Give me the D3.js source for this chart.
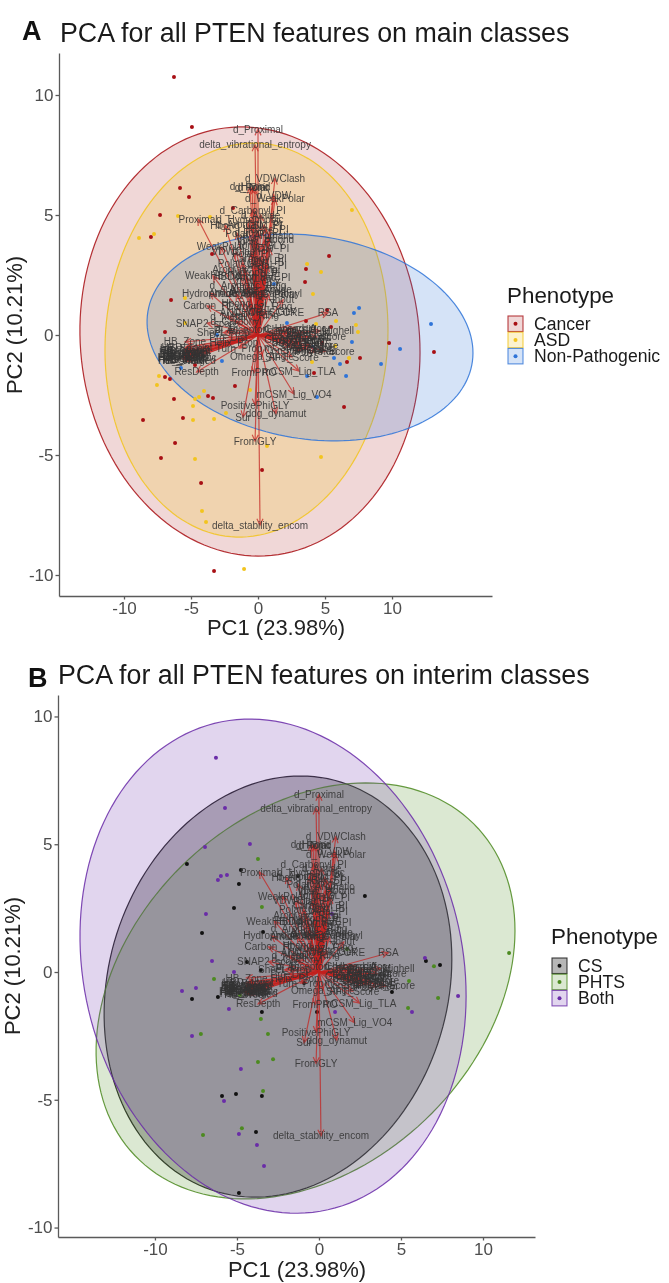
<!DOCTYPE html>
<html><head><meta charset="utf-8">
<script src="https://cdn.jsdelivr.net/npm/d3@7"></script>
<style>html,body{margin:0;padding:0;background:#fff}svg{display:block;filter:blur(.35px)}text{font-family:"Liberation Sans",Arial,sans-serif}</style>
</head><body><svg id="c" width="669" height="1283"></svg>
<script>
const xTicks=[-10,-5,0,5,10], yTicks=[-10,-5,0,5,10];
const groupsA=["Cancer","ASD","Non-Pathogenic"], groupsB=["CS","PHTS","Both"];
const colorsA=["#a80f14","#f2c41e","#2f74d8"], colorsB=["#111111","#4c8a20","#6a2ca8"];

const cancerPts=[[-6.27,10.75],[-4.93,8.67],[-5.82,6.13],[-5.15,5.75],[-7.31,5],[-7.99,4.08],[-1.87,5.29],[-3.43,3.38],[5.3,3.29],[3.58,2.75],[3.51,2.21],[-6.49,1.46],[5.15,1.04],[-6.94,.13],[5.45,.33],[9.78,-.33],[6.64,-1.13],[7.61,-.96],[-6.94,-1.75],[-6.57,-1.83],[-6.27,-2.67],[-8.58,-3.54],[-5.6,-3.46],[-6.19,-4.5],[-7.24,-5.13],[-4.25,-6.17],[.3,-5.63],[-3.73,-2.54],[-3.36,-2.63],[-1.72,-2.13],[6.42,-3],[-4.7,-1.25],[3.58,.58],[4.78,-.33],[4.18,-1.58],[13.13,-.71],[-3.28,-9.83]];
const asdPts=[[-5.97,4.96],[-8.88,4.04],[-7.76,4.21],[7.01,5.21],[3.66,2.96],[4.7,2.63],[4.1,1.71],[-5.45,1.54],[-3.58,4.92],[-5.45,.5],[5.82,.58],[7.31,.42],[7.46,.13],[4.33,.46],[5.75,-.46],[6.79,-.96],[-7.39,-1.71],[-7.54,-2.08],[-4.03,-2.33],[-4.4,-2.58],[-4.7,-2.67],[-4.85,-2.96],[-4.85,-3.54],[-3.28,-3.5],[-.6,-2.29],[-2.39,-3.25],[.67,-4.63],[4.7,-5.08],[-4.7,-5.17],[-4.18,-7.33],[-3.88,-7.79],[-1.04,-9.75],[4.03,-1.13]];
const nonPathPts=[[7.16,.92],[7.54,1.13],[7.01,-.29],[5.67,-.96],[6.12,-1.21],[6.57,-1.71],[9.18,-1.21],[4.4,-2.58],[3.66,-1.71],[-2.69,-1.08],[-5.75,-1.38],[2.16,.5],[1.19,2.13],[4.1,-.5],[-3.06,0],[12.91,.46],[10.6,-.58]];
const csPts=[[-8.05,4.23],[-4.88,3.44],[-4.76,3.99],[-5.18,2.5],[-7.13,1.53],[-3.41,1.57],[2.8,2.97],[-1.28,3.76],[-4.39,.39],[-3.54,.08],[-7.74,-1.06],[-6.16,-.98],[-3.48,-1.57],[-.12,-1.57],[-5.91,-4.85],[-5.06,-4.77],[-3.48,-4.85],[-3.84,-6.26],[-4.88,-8.65],[6.52,.43],[7.38,.27],[4.45,-.78],[-.91,-.43]];
const phtsPts=[[-6.4,-.27],[-4.82,-.9],[-3.54,-1.84],[-7.2,-2.43],[-3.11,-2.43],[-3.72,-3.52],[-2.8,-3.41],[-3.41,-4.66],[-4.7,-6.11],[-7.07,-6.38],[5.49,-.35],[7.26,-1.02],[5.43,-1.41],[7.01,.23],[-3.72,4.42],[-3.48,2.54],[1.71,.9],[11.59,.74]];
const bothPts=[[-6.28,8.38],[-5.73,6.42],[-6.95,4.89],[-4.21,5.01],[-5.98,3.76],[-5.61,3.8],[-6.16,3.6],[-6.89,2.27],[.79,2.27],[-6.52,.43],[-5.18,0],[-7.5,-.63],[-8.35,-.74],[-5.49,-1.45],[-7.74,-2.5],[-4.76,-3.8],[-5.79,-5.05],[-4.88,-6.34],[-3.78,-6.77],[-3.35,-7.59],[.98,-1.57],[5.67,-1.57],[6.46,.55],[8.48,-.94]];

// ellipse summaries: centre PC1, centre PC2, half-width, half-height, correlation
const ellipsesA=[[-.6,-.27,12.69,8.94,-.05],[-.86,-.21,10.56,8.21,.05],[3.88,-.1,12.16,4.31,-.15]];
const ellipsesB=[[-2.5,-.57,10.6,8.24,.13],[-.82,-.74,12.77,8.14,.29],[-2.8,.23,11.77,9.67,-.12]];

const featureNames=["d_Proximal","delta_vibrational_entropy","d_VDWClash","d_Polar","d_Hbond","d_Ionic","d_VDW","d_WeakPolar","Proximal","d_Hydrophobic","Hbond","CSM_PI","Polar","d_Ionic_PI","VDW_Hbond","d_Aromatic","WeakPolar","Ionic_GLY","VDWClash","d_Dist_PI","Aromatic_Ring","WeakHBond","HBDonor_PHE","d_Aromatic_Ring","Hydrophobic","Amide_Ring","Amide_Carbonyl","Inout","Carbon_PI","d_Metal","d_Carbonyl","ANCHOR_SCORE","RSA","SNAP2_score","PI_PI","d_Acceptor","d_Hbond_Acc","mCSM_Stab","mCSM_Mighell","SDM_score","DUET_score","CADD_score","PROVEAN","mCSM_PPI","ConSurf_CORE","Phyre_Score","SIFT_Score","Omega_Angle","HB_Zone","HBD_count","HBA_count","HB_Polar","Hydrophilic","HB_Aromatic","HB_Ionic","HB_Weak","HydroAliph","Aliphatic","ResDepth","FromPRO","mCSM_Lig_TLA","mCSM_Lig_VO4","PositivePhiGLY","ddg_dynamut","Sur","FromGLY","delta_stability_encom",
"d_Carbonyl_PI","d_Amide","d_Aromatic_PI","HBAcc_PI","Ionic_PI","VDW_PI","Polar_PI","Carbonyl_PI","Metal_PI","Hydroph_PI","Aromatic_PI","Polar_GLY","VDW_GLY","Amide_Amide","d_Amide_Ring","Amide_Polar","Hbond_GLY","Carbonyl_Ring","d_Weak_GLY","Ionic_Ring",
"Charge_diff","Volume_diff","Hydro_diff","BLOSUM62","PAM250","GRANTHAM","FATHMM","PolyPhen","Sift_Core",
"Pro_Dist","Helix_Prop","Sheet_Prop","Turn_Prop",
"HB_Bridge","HB_Water","HB_Main","HB_Side","HB_Total","HB_Charged","HB_Neutral","HB_Pocket"];
const featurePC1=[0,-.22,1.27,-.45,-.6,-.3,1.19,1.27,-4.48,-.6,-2.46,.45,-1.57,0,.52,.75,-2.76,.3,-1.64,.3,-.97,-3.36,-.82,-.75,-3.58,-1.64,.52,1.87,-3.8,-2.24,-1.64,.3,5.22,-3.8,-2.39,-1.3,2.76,3.13,4.63,3.51,3.88,4.4,3.13,2.39,3.13,5.05,2.54,.3,-5.45,-5.3,-5.45,-5.6,-5.45,-5.3,-5.6,-5.45,-5.6,-5.3,-4.58,-.3,3.06,2.69,-.22,1.34,-1.12,-.22,.15,
-.4,.2,-.7,.6,-.2,.9,-.5,.1,.7,-.3,.4,-1.2,-.1,.2,-.4,.8,-.7,.1,.6,-.2,
2.4,3.4,3.8,3,3.5,2.6,4,4.3,2.2,
-2.2,-1.8,-2.6,-1.4,
-5.5,-5.4,-5.6,-5.35,-5.5,-5.3,-5.45,-5.55];
const featurePC2=[8.58,7.92,6.54,6.13,6.17,6.13,5.83,5.67,4.83,4.83,4.58,4.58,4.25,4.29,3.96,4.13,3.67,3.71,3.46,3.08,2.71,2.46,2.42,2.08,1.75,1.71,1.75,1.46,1.21,.79,.58,.92,.92,.5,.17,.25,.29,0,.17,-.21,-.42,-.08,-.33,-.5,-.63,-.67,-.92,-.88,-.29,-.5,-.63,-.75,-.83,-.92,-1,-1.08,-.96,-.71,-1.54,-1.58,-1.5,-2.46,-2.92,-3.29,-3.42,-4.42,-7.92,
5.2,5,4.6,4.4,3.9,3.6,3.4,3.2,2.9,2.6,2.4,3,2.2,1.9,1.8,1.7,1.3,1.2,1,.8,
.25,.1,-.1,-.3,-.6,-.2,-.5,-.7,.1,
-.1,-.3,.1,-.55,
-.55,-.68,-.8,-.88,-1,-1.05,-.72,-.92];

const svg=d3.select("#c");
function panel(o){
  const x=d3.scaleLinear().domain(o.xd).range(o.xr), y=d3.scaleLinear().domain(o.yd).range(o.yr);
  const g=svg.append("g");
  const samples=d3.range(0,6.2832,.04);
  const line=d3.line().curve(d3.curveLinearClosed);
  o.ell.forEach((e,i)=>{
    const [cx,cy,a,b,r]=e;
    g.append("path").attr("d",line(samples.map(t=>[x(cx+a*Math.cos(t)),y(cy+b*(r*Math.cos(t)+Math.sqrt(1-r*r)*Math.sin(t)))])))
     .attr("fill",o.colors[i]).attr("fill-opacity",o.fo[i]).attr("stroke",o.colors[i]).attr("stroke-opacity",.85).attr("stroke-width",1.2);
  });
  o.pts.forEach((p,i)=>g.append("g").selectAll("circle").data(p).join("circle")
     .attr("cx",d=>x(d[0])).attr("cy",d=>y(d[1])).attr("r",2).attr("fill",o.colors[i]));
  const ar=g.append("g").attr("stroke","#c4211f").attr("stroke-opacity",.72).attr("stroke-width",1.2).attr("fill","none");
  featureNames.forEach((n,i)=>{
    const x1=x(featurePC1[i]*o.ls),y1=y(featurePC2[i]*o.ls),x0=x(0),y0=y(0);
    const ang=Math.atan2(y1-y0,x1-x0),h=7;
    ar.append("path").attr("d",`M${x0},${y0}L${x1},${y1}M${x1-h*Math.cos(ang-.45)},${y1-h*Math.sin(ang-.45)}L${x1},${y1}L${x1-h*Math.cos(ang+.45)},${y1-h*Math.sin(ang+.45)}`);
  });
  g.append("g").selectAll("text").data(featureNames).join("text")
   .attr("x",(d,i)=>x(featurePC1[i]*o.ls)).attr("y",(d,i)=>y(featurePC2[i]*o.ls)+3.5)
   .attr("text-anchor","middle").attr("font-size",10).attr("fill","#333").attr("fill-opacity",.88).text(d=>d);
  const ax=g.append("g").attr("transform",`translate(0,${o.yr[0]})`).call(d3.axisBottom(x).tickValues(xTicks).tickSize(3.5).tickSizeOuter(0).tickPadding(2).tickFormat(d=>String(d)));
  const ay=g.append("g").attr("transform",`translate(${o.xr[0]},0)`).call(d3.axisLeft(y).tickValues(yTicks).tickSize(3.5).tickSizeOuter(0).tickPadding(2).tickFormat(d=>String(d)));
  [ax,ay].forEach(a=>{a.selectAll("path,line").attr("stroke","#5a5a5a").attr("stroke-width",1.3);
    a.selectAll("text").attr("font-size",17).attr("fill","#4d4d4d").attr("font-family","Liberation Sans")});
  g.append("text").attr("x",o.xl[0]).attr("y",o.xl[1]).attr("text-anchor","middle").attr("font-size",22).attr("fill","#222").text("PC1 (23.98%)");
  g.append("text").attr("transform",`translate(${o.yl[0]},${o.yl[1]}) rotate(-90)`).attr("text-anchor","middle").attr("font-size",22).attr("fill","#222").text("PC2 (10.21%)");
  g.append("text").attr("x",o.tag[0]).attr("y",o.tag[1]).attr("font-size",27).attr("font-weight","bold").attr("fill","#111").text(o.tagText);
  g.append("text").attr("x",o.title[0]).attr("y",o.title[1]).attr("font-size",26.8).attr("fill","#1a1a1a").text(o.titleText);
  const L=g.append("g").attr("transform",`translate(${o.leg[0]},${o.leg[1]})`);
  L.append("text").attr("x",0).attr("y",0).attr("font-size",22.4).attr("fill","#1a1a1a").text("Phenotype");
  o.groups.forEach((n,i)=>{
    const yy=o.legTop+i*16.2;
    L.append("rect").attr("x",1).attr("y",yy).attr("width",15).attr("height",15.5).attr("fill",o.colors[i]).attr("fill-opacity",o.fo[i]).attr("stroke",o.colors[i]).attr("stroke-opacity",.8).attr("stroke-width",1.1);
    L.append("circle").attr("cx",8.5).attr("cy",yy+7.8).attr("r",2).attr("fill",o.colors[i]);
    L.append("text").attr("x",o.legText).attr("y",yy+13.5).attr("font-size",o.legFont).attr("fill","#1a1a1a").text(n);
  });
}
panel({xd:[-14.85,17.46],xr:[59,492],yd:[-10.875,11.75],yr:[596,53],ell:ellipsesA,pts:[cancerPts,asdPts,nonPathPts],colors:colorsA,fo:[.17,.22,.2],ls:1,
  groups:groupsA,xl:[276,635],yl:[22,325],tag:[22,40],tagText:"A",title:[60,42],titleText:"PCA for all PTEN features on main classes",leg:[507,303],legTop:13,legText:27,legFont:17.6});
panel({xd:[-15.91,13.17],xr:[58,535],yd:[-10.37,10.84],yr:[1237,695],ell:ellipsesB,pts:[csPts,phtsPts,bothPts],colors:colorsB,fo:[.3,.2,.2],ls:.81,
  groups:groupsB,xl:[297,1277],yl:[20,966],tag:[28,687],tagText:"B",title:[58,684],titleText:"PCA for all PTEN features on interim classes",leg:[551,944],legTop:14,legText:27,legFont:17.6});
</script></body></html>
